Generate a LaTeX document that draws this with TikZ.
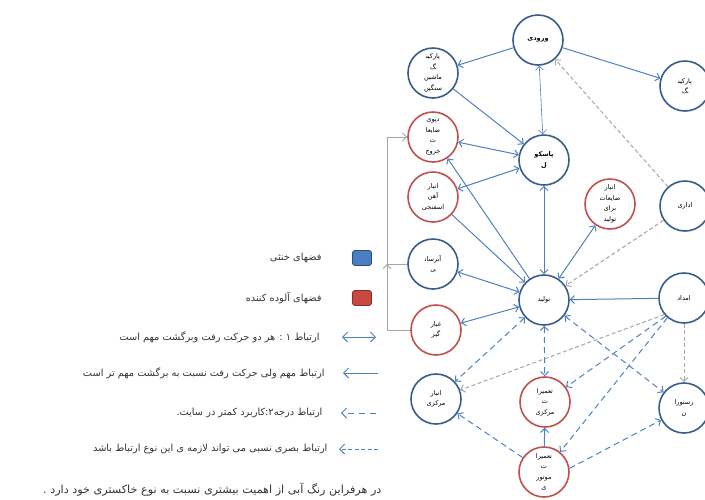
\documentclass[tikz,border=0pt]{standalone}
\usepackage{fontspec}
\newfontfamily\fa[Script=Arabic]{DejaVu Sans}
\usetikzlibrary{arrows.meta}
\TeXXeTstate=1
\newcommand{\fatxt}[1]{\beginR#1\endR}

\definecolor{zoneblue}{RGB}{56,93,138}
\definecolor{zonered}{RGB}{192,80,77}
\definecolor{linkblue}{RGB}{79,129,189}
\definecolor{linkgray}{RGB}{166,166,166}
\definecolor{keyblue}{RGB}{74,126,197}
\definecolor{keyred}{RGB}{200,72,66}

\begin{document}
\begin{tikzpicture}[
    x=1pt, y=-1pt,
    >={Straight Barb[length=4pt,width=8pt]},
    zone/.style={circle, draw, line width=1.6pt, minimum size=50pt, inner sep=0pt,
      align=center, font=\fa\fontsize{6.5}{10.5}\selectfont},
    neutral/.style={zone, draw=zoneblue},
    polluting/.style={zone, draw=zonered},
    link/.style={->, draw=linkblue, line width=1pt},
    twoway/.style={link, <->},
    weaklink/.style={link, dash pattern=on 6pt off 4pt},
    sightline/.style={->, draw=linkgray, line width=1pt, dash pattern=on 4pt off 2.5pt},
    bracket/.style={->, draw=linkgray, line width=1pt},
    legendbox/.style={draw, rounded corners=2.5pt, line width=0.8pt, minimum width=19pt, minimum height=15pt},
    legendtext/.style={anchor=east, font=\fa\fontsize{9.8}{12}\selectfont, text=black!80},
  ]
    \useasboundingbox (0,0) rectangle (705,499);

    % ノード
    \node[neutral, font=\fa\bfseries\fontsize{6.5}{10.5}\selectfont] (entry) at (538,40) {\fatxt{ورودی}};
    \node[neutral] (heavypark) at (433,73) {\fatxt{پارکین^^^^200d}\\\fatxt{^^^^200dگ}\\\fatxt{ماشین}\\\fatxt{سنگین}};
    \node[neutral] (park) at (685,86) {\fatxt{پارکین^^^^200d}\\\fatxt{^^^^200dگ}};
    \node[polluting] (depot) at (433,137) {\fatxt{دپوی}\\\fatxt{ضایعا}\\\fatxt{ت}\\\fatxt{خروج}};
    \node[neutral, font=\fa\bfseries\fontsize{6.5}{10.5}\selectfont] (scale) at (544,160) {\fatxt{پاسکو}\\\fatxt{ل}};
    \node[polluting] (ironstore) at (433,197) {\fatxt{انبار}\\\fatxt{آهن}\\\fatxt{اسفنجی}};
    \node[polluting] (scrapstore) at (610,204) {\fatxt{انبار}\\\fatxt{ضایعات}\\\fatxt{برای}\\\fatxt{تولید}};
    \node[neutral] (office) at (685,206) {\fatxt{اداری}};
    \node[neutral] (water) at (433,264) {\fatxt{آبرسان^^^^200d}\\\fatxt{^^^^200dی}};
    \node[neutral] (prod) at (544,300) {\fatxt{تولید}};
    \node[neutral] (rescue) at (684,298) {\fatxt{امداد}};
    \node[polluting] (dust) at (436,330) {\fatxt{غبار}\\\fatxt{گیر}};
    \node[neutral] (mainstore) at (436,399) {\fatxt{انبار}\\\fatxt{مرکزی}};
    \node[polluting] (repair) at (545,402) {\fatxt{تعمیرا}\\\fatxt{ت}\\\fatxt{مرکزی}};
    \node[neutral] (restaurant) at (684,408) {\fatxt{رستورا}\\\fatxt{ن}};
    \node[polluting] (motorrepair) at (544,472) {\fatxt{تعمیرا}\\\fatxt{ت}\\\fatxt{موتور}\\\fatxt{ی}};

    % 実線の矢印
    \draw[link] (entry) -- (heavypark);
    \draw[link] (entry) -- (park);
    \draw[twoway, line width=0.6pt] (entry) -- (scale);
    \draw[link] (heavypark) -- (scale);
    \draw[twoway] (depot) -- (scale);
    \draw[twoway] (ironstore) -- (scale);
    \draw[twoway] (prod) -- (scale);
    \draw[link] (prod) -- (depot);
    \draw[link] (ironstore) -- (prod);
    \draw[twoway] (water) -- (prod);
    \draw[twoway] (dust) -- (prod);
    \draw[twoway] (scrapstore) -- (prod);
    \draw[link] (rescue) -- (prod);
    \draw[link] (motorrepair) -- (repair);

    % 破線(青)
    \draw[weaklink, <->] (prod) -- (mainstore);
    \draw[weaklink, <->] (prod) -- (repair);
    \draw[weaklink, <->] (prod) -- (restaurant);
    \draw[weaklink] (motorrepair) -- (mainstore);
    \draw[weaklink] (motorrepair.8) -- (restaurant);
    \draw[weaklink] (rescue.225) -- (repair);
    \draw[weaklink] (rescue.230) -- (motorrepair);

    % 破線(灰)
    \draw[sightline] (office) -- (entry);
    \draw[sightline] (office) -- (prod);
    \draw[sightline] (rescue.220) -- (mainstore);
    \draw[sightline] (rescue) -- (restaurant);

    % 左の接続線
    \coordinate (tee) at (387,264);
    \draw[bracket] (dust.west) -| (tee);
    \draw[bracket] (water.west) -- (tee) |- (depot.west);

    % 凡例
    \node[legendbox, draw=keyblue!60!black, fill=keyblue] (neutralkey) at (362,258) {};
    \node[legendbox, draw=keyred!65!black, fill=keyred] (pollutingkey) at (362,298) {};
    \node[legendtext] (neutraltext) at (325,258) {\fatxt{فضهای خنثی}};
    \node[legendtext] (pollutingtext) at (325,298) {\fatxt{فضهای آلوده کننده}};

    \coordinate (twowayl) at (342,337);
    \coordinate (twowayr) at (376,337);
    \coordinate (onewayl) at (343,373);
    \coordinate (onewayr) at (378,373);
    \coordinate (weakl) at (341,413);
    \coordinate (weakr) at (376,413);
    \coordinate (sightl) at (339,449);
    \coordinate (sightr) at (378,449);
    \draw[twoway, >={Straight Barb[length=5pt,width=10pt]}] (twowayl) -- (twowayr);
    \draw[link, >={Straight Barb[length=5pt,width=10pt]}] (onewayr) -- (onewayl);
    \draw[link, dash pattern=on 6pt off 5pt, >={Straight Barb[length=5pt,width=10pt]}] (weakr) -- (weakl);
    \draw[link, dash pattern=on 4pt off 2.5pt, >={Straight Barb[length=5pt,width=10pt]}] (sightr) -- (sightl);

    \node[legendtext] (twowaytext) at (323,337) {\fatxt{ارتباط ۱ : هر دو حرکت رفت وبرگشت مهم است}};
    \node[legendtext] (onewaytext) at (328,373) {\fatxt{ارتباط مهم ولی حرکت رفت نسبت به برگشت مهم تر است}};
    \node[legendtext] (weaktext) at (326,413) {\fatxt{ارتباط درجه۲:کاربرد کمتر در سایت.}};
    \node[legendtext] (sighttext) at (331,449) {\fatxt{ارتباط بصری نسبی می تواند لازمه ی این نوع ارتباط باشد}};
    \node[legendtext, font=\fa\fontsize{11.2}{13}\selectfont] (notetext) at (385,490) {\fatxt{در هرفراین رنگ آبی از اهمیت بیشتری نسبت به نوع خاکستری خود دارد .}};

  \end{tikzpicture}
\end{document}
